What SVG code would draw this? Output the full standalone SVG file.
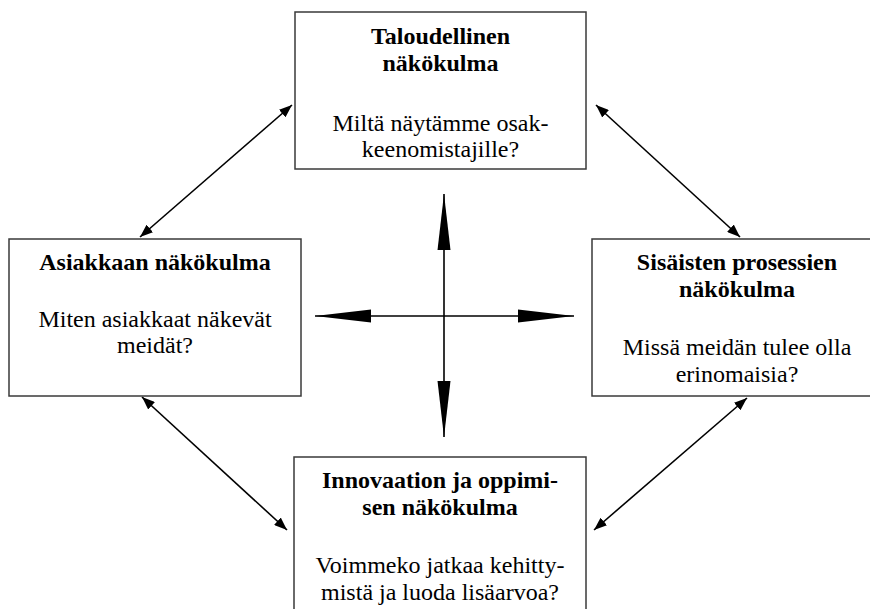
<svg xmlns="http://www.w3.org/2000/svg" width="870" height="609" viewBox="0 0 870 609">
  <style>
    .box { fill: #ffffff; stroke: #3a3a3a; stroke-width: 1.5; }
    .title { font-family: "Liberation Serif", "Times New Roman", serif; font-size: 24px; font-weight: bold; fill: #000; text-anchor: middle; }
    .body { font-family: "Liberation Serif", "Times New Roman", serif; font-size: 24px; fill: #000; text-anchor: middle; }
    .link { stroke: #000; stroke-width: 1.6; fill: none; }
  </style>
  <defs>
    <marker id="bigHead" markerUnits="userSpaceOnUse" viewBox="0 0 56 14" markerWidth="56" markerHeight="14" refX="56" refY="7" orient="auto-start-reverse">
      <path d="M0,0.5 L56,7 L0,13.5 z" fill="#000"/>
    </marker>
    <marker id="smallHead" markerUnits="userSpaceOnUse" viewBox="0 0 13 10" markerWidth="13" markerHeight="10" refX="13" refY="5" orient="auto-start-reverse">
      <path d="M0,0 L13,5 L0,10 z" fill="#000"/>
    </marker>
  </defs>

  <rect width="870" height="609" fill="#ffffff"/>

  <g id="connectors">
    <!-- central cross -->
    <line class="link" x1="444" y1="194" x2="444" y2="437" marker-start="url(#bigHead)" marker-end="url(#bigHead)"/>
    <line class="link" x1="315" y1="316" x2="574" y2="316" marker-start="url(#bigHead)" marker-end="url(#bigHead)"/>
    <!-- diagonal links between perspectives -->
    <line class="link" x1="140" y1="237" x2="292" y2="105" marker-start="url(#smallHead)" marker-end="url(#smallHead)"/>
    <line class="link" x1="596" y1="105" x2="740" y2="237" marker-start="url(#smallHead)" marker-end="url(#smallHead)"/>
    <line class="link" x1="142" y1="397" x2="287" y2="530" marker-start="url(#smallHead)" marker-end="url(#smallHead)"/>
    <line class="link" x1="747" y1="398" x2="594" y2="530" marker-start="url(#smallHead)" marker-end="url(#smallHead)"/>
  </g>

  <g id="financial">
    <rect class="box" x="295" y="12" width="291" height="157"/>
    <text class="title" x="440.5" y="44">Taloudellinen</text>
    <text class="title" x="440.5" y="71">näkökulma</text>
    <text class="body" x="440.5" y="131">Miltä näytämme osak-</text>
    <text class="body" x="440.5" y="157">keenomistajille?</text>
  </g>

  <g id="customer">
    <rect class="box" x="9" y="239" width="292" height="157"/>
    <text class="title" x="155" y="270">Asiakkaan näkökulma</text>
    <text class="body" x="155" y="327">Miten asiakkaat näkevät</text>
    <text class="body" x="155" y="353">meidät?</text>
  </g>

  <g id="internal">
    <rect class="box" x="592" y="239" width="290" height="157"/>
    <text class="title" x="737" y="270">Sisäisten prosessien</text>
    <text class="title" x="737" y="297">näkökulma</text>
    <text class="body" x="737" y="355">Missä meidän tulee olla</text>
    <text class="body" x="737" y="382">erinomaisia?</text>
  </g>

  <g id="innovation">
    <rect class="box" x="294" y="457" width="292" height="170"/>
    <text class="title" x="440" y="488">Innovaation ja oppimi-</text>
    <text class="title" x="440" y="515">sen näkökulma</text>
    <text class="body" x="440" y="573">Voimmeko jatkaa kehitty-</text>
    <text class="body" x="440" y="600">mistä ja luoda lisäarvoa?</text>
  </g>
</svg>
